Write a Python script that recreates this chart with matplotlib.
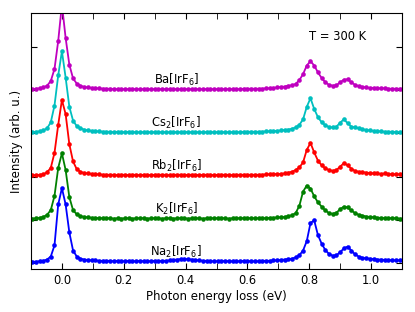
import matplotlib
matplotlib.use('Agg')
import matplotlib.pyplot as plt
from matplotlib.ticker import MultipleLocator

energy = [
    -0.096, -0.084, -0.072, -0.060, -0.048, -0.036, -0.024, -0.012, 0.000, 0.012,
    0.024, 0.036, 0.048, 0.060, 0.072, 0.084, 0.096, 0.108, 0.120, 0.132,
    0.144, 0.156, 0.168, 0.180, 0.192, 0.204, 0.216, 0.228, 0.240, 0.252,
    0.264, 0.276, 0.288, 0.300, 0.312, 0.324, 0.336, 0.348, 0.360, 0.372,
    0.384, 0.396, 0.408, 0.420, 0.432, 0.444, 0.456, 0.468, 0.480, 0.492,
    0.504, 0.516, 0.528, 0.540, 0.552, 0.564, 0.576, 0.588, 0.600, 0.612,
    0.624, 0.636, 0.648, 0.660, 0.672, 0.684, 0.696, 0.708, 0.720, 0.732,
    0.744, 0.756, 0.768, 0.780, 0.792, 0.804, 0.816, 0.828, 0.840, 0.852,
    0.864, 0.876, 0.888, 0.900, 0.912, 0.924, 0.936, 0.948, 0.960, 0.972,
    0.984, 0.996, 1.008, 1.020, 1.032, 1.044, 1.056, 1.068, 1.080, 1.092,
    1.104,
]

na = [
    0.02, 0.02, 0.03, 0.04, 0.07, 0.14, 0.40, 1.35, 1.73, 1.35,
    0.70, 0.28, 0.14, 0.09, 0.07, 0.06, 0.05, 0.05, 0.04, 0.04,
    0.04, 0.04, 0.03, 0.04, 0.03, 0.03, 0.04, 0.03, 0.03, 0.04,
    0.03, 0.03, 0.03, 0.04, 0.03, 0.04, 0.04, 0.05, 0.06, 0.07,
    0.08, 0.08, 0.08, 0.07, 0.06, 0.05, 0.04, 0.04, 0.03, 0.03,
    0.03, 0.03, 0.04, 0.03, 0.03, 0.03, 0.03, 0.04, 0.03, 0.03,
    0.03, 0.03, 0.04, 0.04, 0.04, 0.05, 0.05, 0.06, 0.07, 0.08,
    0.09, 0.12, 0.17, 0.28, 0.50, 0.92, 0.98, 0.64, 0.44, 0.29,
    0.20, 0.16, 0.17, 0.24, 0.33, 0.37, 0.28, 0.19, 0.14, 0.11,
    0.10, 0.09, 0.08, 0.07, 0.07, 0.06, 0.06, 0.05, 0.05, 0.05,
    0.05,
]

k = [
    0.02, 0.03, 0.04, 0.06, 0.11, 0.22, 0.55, 1.20, 1.54, 1.15,
    0.52, 0.22, 0.12, 0.08, 0.06, 0.05, 0.04, 0.04, 0.03, 0.03,
    0.03, 0.03, 0.02, 0.03, 0.02, 0.03, 0.03, 0.02, 0.03, 0.03,
    0.03, 0.02, 0.03, 0.03, 0.03, 0.02, 0.03, 0.03, 0.02, 0.03,
    0.03, 0.03, 0.02, 0.03, 0.03, 0.03, 0.02, 0.03, 0.03, 0.03,
    0.03, 0.03, 0.03, 0.02, 0.03, 0.03, 0.03, 0.03, 0.03, 0.03,
    0.03, 0.03, 0.03, 0.03, 0.04, 0.04, 0.05, 0.05, 0.06, 0.08,
    0.10, 0.15, 0.32, 0.65, 0.79, 0.72, 0.54, 0.40, 0.30, 0.21,
    0.15, 0.13, 0.16, 0.24, 0.30, 0.28, 0.21, 0.15, 0.11, 0.09,
    0.07, 0.06, 0.05, 0.04, 0.04, 0.03, 0.03, 0.03, 0.03, 0.02,
    0.02,
]

rb = [
    0.03, 0.03, 0.04, 0.05, 0.10, 0.20, 0.55, 1.20, 1.78, 1.45,
    0.75, 0.35, 0.17, 0.11, 0.08, 0.07, 0.06, 0.05, 0.05, 0.04,
    0.04, 0.04, 0.04, 0.03, 0.04, 0.04, 0.03, 0.04, 0.04, 0.03,
    0.04, 0.04, 0.03, 0.04, 0.04, 0.04, 0.04, 0.03, 0.04, 0.04,
    0.04, 0.03, 0.04, 0.04, 0.04, 0.03, 0.04, 0.04, 0.04, 0.03,
    0.04, 0.04, 0.04, 0.04, 0.03, 0.04, 0.04, 0.04, 0.04, 0.04,
    0.04, 0.04, 0.04, 0.05, 0.05, 0.05, 0.06, 0.06, 0.07, 0.09,
    0.11, 0.15, 0.21, 0.33, 0.62, 0.78, 0.56, 0.37, 0.26, 0.19,
    0.15, 0.13, 0.15, 0.23, 0.31, 0.26, 0.18, 0.13, 0.11, 0.10,
    0.09, 0.08, 0.07, 0.07, 0.06, 0.07, 0.06, 0.05, 0.05, 0.05,
    0.04,
]

cs = [
    0.03, 0.04, 0.05, 0.07, 0.12, 0.26, 0.65, 1.35, 1.91, 1.30,
    0.62, 0.30, 0.17, 0.12, 0.09, 0.07, 0.06, 0.05, 0.05, 0.04,
    0.04, 0.04, 0.03, 0.04, 0.03, 0.03, 0.04, 0.03, 0.03, 0.03,
    0.03, 0.03, 0.03, 0.03, 0.03, 0.03, 0.03, 0.03, 0.03, 0.03,
    0.03, 0.04, 0.03, 0.03, 0.03, 0.03, 0.03, 0.03, 0.03, 0.03,
    0.03, 0.03, 0.03, 0.03, 0.03, 0.03, 0.03, 0.04, 0.04, 0.04,
    0.04, 0.04, 0.04, 0.05, 0.05, 0.06, 0.06, 0.07, 0.08, 0.09,
    0.11, 0.14, 0.20, 0.33, 0.62, 0.82, 0.57, 0.38, 0.26, 0.19,
    0.15, 0.14, 0.16, 0.25, 0.33, 0.24, 0.16, 0.14, 0.12, 0.10,
    0.08, 0.07, 0.06, 0.05, 0.05, 0.04, 0.04, 0.04, 0.03, 0.03,
    0.03,
]

ba = [
    0.03, 0.04, 0.05, 0.07, 0.11, 0.22, 0.50, 1.15, 2.00, 1.22,
    0.60, 0.28, 0.16, 0.11, 0.08, 0.07, 0.06, 0.05, 0.05, 0.04,
    0.04, 0.04, 0.03, 0.03, 0.03, 0.03, 0.03, 0.03, 0.03, 0.03,
    0.03, 0.03, 0.03, 0.03, 0.03, 0.03, 0.03, 0.03, 0.03, 0.03,
    0.03, 0.03, 0.03, 0.03, 0.03, 0.03, 0.03, 0.03, 0.03, 0.03,
    0.03, 0.03, 0.03, 0.03, 0.03, 0.03, 0.03, 0.04, 0.04, 0.04,
    0.04, 0.04, 0.04, 0.05, 0.05, 0.06, 0.07, 0.08, 0.09, 0.11,
    0.12, 0.15, 0.24, 0.38, 0.58, 0.68, 0.58, 0.42, 0.29, 0.19,
    0.13, 0.11, 0.12, 0.19, 0.25, 0.26, 0.19, 0.13, 0.10, 0.08,
    0.07, 0.06, 0.06, 0.05, 0.05, 0.05, 0.04, 0.04, 0.04, 0.04,
    0.04,
]

spectra = [ba, cs, rb, k, na]
labels = ['Ba[IrF$_6$]', 'Cs$_2$[IrF$_6$]', 'Rb$_2$[IrF$_6$]', 'K$_2$[IrF$_6$]', 'Na$_2$[IrF$_6$]']
colors = ['m', 'c', 'r', 'g', 'b']
offsets = [4, 3, 2, 1, 0]

plt.rcParams['font.family'] = 'DejaVu Sans'
fig = plt.figure(figsize=(4.15, 3.12), dpi=100)
ax = fig.add_axes([0.0747, 0.1378, 0.894, 0.8205])

for y, lab, col, off in zip(spectra, labels, colors, offsets):
    ax.plot(energy, [v + off for v in y], '-o', color=col, lw=1.3, ms=3.3, mew=0)
    ax.text(0.37, off + 0.15, lab, ha='center', va='baseline', fontsize=8.3)

ax.text(0.89, 5.25, 'T = 300 K', ha='center', va='center', fontsize=8.3)

ax.set_xlim(-0.1, 1.1)
ax.set_ylim(-0.15, 5.8)
ax.xaxis.set_major_locator(MultipleLocator(0.2))
ax.xaxis.set_minor_locator(MultipleLocator(0.1))
ax.set_yticks([0, 1, 2, 3, 4, 5])
ax.set_yticklabels([])
ax.tick_params(which='both', direction='in', top=True, right=True, length=4, labelsize=8.3)
ax.set_xlabel('Photon energy loss (eV)', fontsize=8.5, labelpad=2)
ax.set_ylabel('Intensity (arb. u.)', fontsize=8.5, labelpad=2)

fig.savefig('out.png', dpi=100)
